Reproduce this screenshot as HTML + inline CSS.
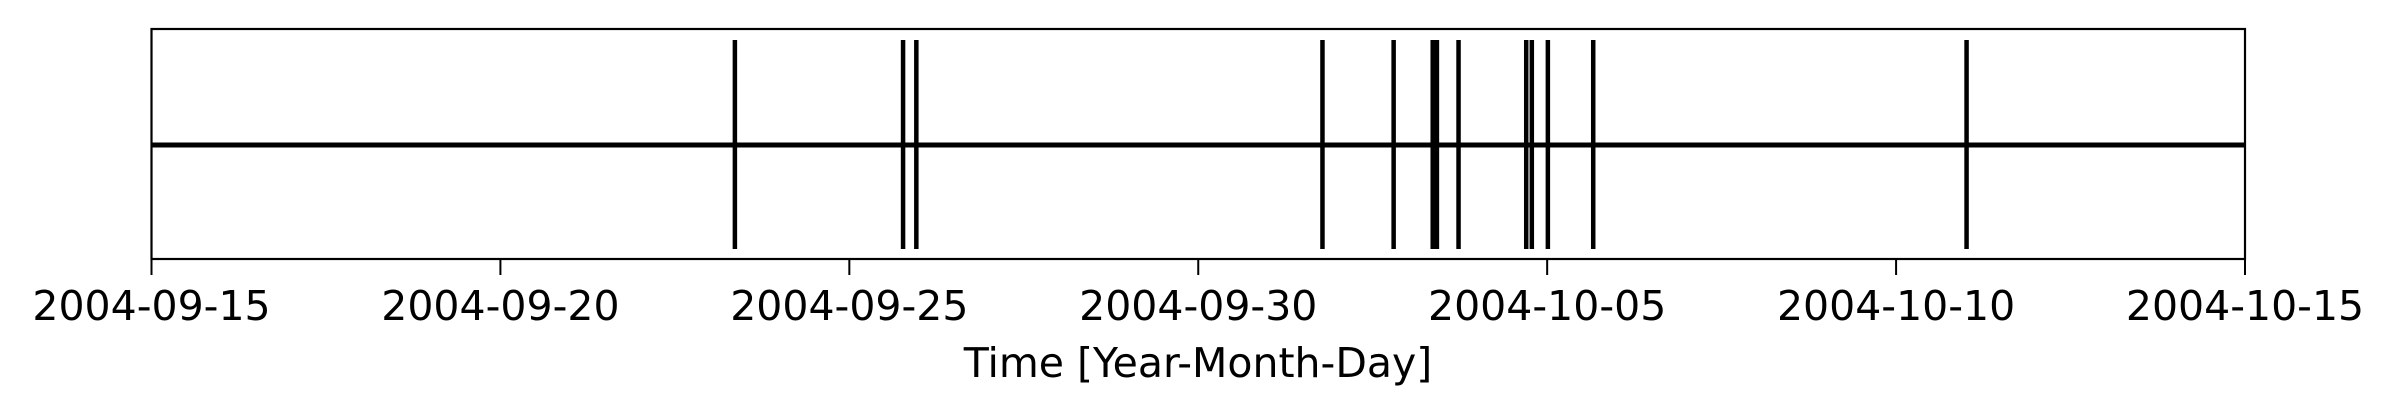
<!DOCTYPE html>
<html><head><meta charset="utf-8"><style>
html,body{margin:0;padding:0;background:#fff;}
svg{display:block;font-family:"DejaVu Sans","Liberation Sans",sans-serif;}
</style></head><body>
<svg id="chart" width="2394" height="416" viewBox="0 0 2394 416">
<g id="marks"></g>
<rect x="151.5" y="29" width="2093.5" height="230" fill="none" stroke="#000" stroke-width="2.2"/>
<g id="ticks"></g>
<text x="1198" y="377" font-size="41" text-anchor="middle">Time [Year-Month-Day]</text>
</svg>
<script>
// Event times in days since 2004-09-15
const eventDays = [8.36, 10.77, 10.96, 16.78, 17.80, 18.36, 18.42, 18.73, 19.70, 19.78, 20.01, 20.66, 26.01];
const tickDays = [0, 5, 10, 15, 20, 25, 30];
const tickLabels = ["2004-09-15","2004-09-20","2004-09-25","2004-09-30","2004-10-05","2004-10-10","2004-10-15"];
const domain = [0, 30];

const X0 = 151.5, X1 = 2245, YT = 29, YB = 259;
const x = d => X0 + (d - domain[0]) / (domain[1] - domain[0]) * (X1 - X0);
const NS = "http://www.w3.org/2000/svg";
const marks = document.getElementById('marks');
const ticks = document.getElementById('ticks');

const base = document.createElementNS(NS, 'line');


base.setAttribute('x1', X0); base.setAttribute('x2', X1);
base.setAttribute('y1', 145); base.setAttribute('y2', 145);
base.setAttribute('stroke', '#000'); base.setAttribute('stroke-width', 5);
marks.appendChild(base);

eventDays.forEach(d => {
  const l = document.createElementNS(NS, 'line');
  
  
  l.setAttribute('x1', x(d)); l.setAttribute('x2', x(d));
  l.setAttribute('y1', 40); l.setAttribute('y2', 249);
  l.setAttribute('stroke', '#000'); l.setAttribute('stroke-width', 4.5);
  marks.appendChild(l);
});

tickDays.forEach((d, i) => {
  const t = document.createElementNS(NS, 'line');
  
  
  t.setAttribute('x1', x(d)); t.setAttribute('x2', x(d));
  t.setAttribute('y1', YB); t.setAttribute('y2', YB + 16);
  t.setAttribute('stroke', '#000'); t.setAttribute('stroke-width', 2);
  ticks.appendChild(t);
  const tx = document.createElementNS(NS, 'text');
  
  
  tx.setAttribute('x', x(d)); tx.setAttribute('y', 320);
  tx.setAttribute('font-size', 41); tx.setAttribute('text-anchor', 'middle');
  tx.textContent = tickLabels[i];
  ticks.appendChild(tx);
});
</script>
</body></html>
